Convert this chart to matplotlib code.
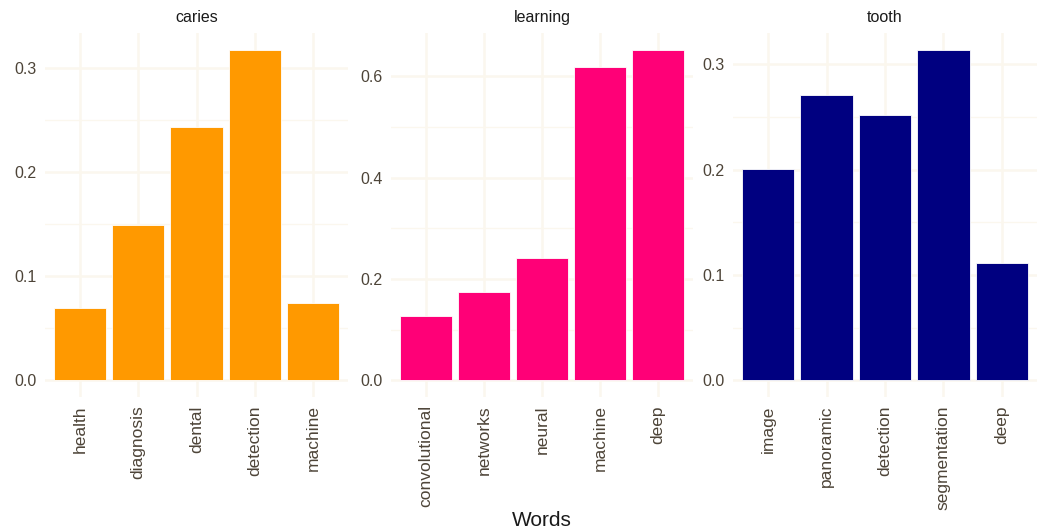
import matplotlib.pyplot as plt

plt.rcParams["font.family"] = ["Liberation Sans", "DejaVu Sans"]

PANELS = ["caries", "learning", "tooth"]
WORDS = {
    "caries": ["health", "diagnosis", "dental", "detection", "machine"],
    "learning": ["convolutional", "networks", "neural", "machine", "deep"],
    "tooth": ["image", "panoramic", "detection", "segmentation", "deep"],
}
VALUES = {
    "caries": [0.070, 0.149, 0.244, 0.318, 0.074],
    "learning": [0.127, 0.174, 0.241, 0.619, 0.653],
    "tooth": [0.201, 0.271, 0.252, 0.314, 0.111],
}
YTICKS = {
    "caries": [0.0, 0.1, 0.2, 0.3],
    "learning": [0.0, 0.2, 0.4, 0.6],
    "tooth": [0.0, 0.1, 0.2, 0.3],
}
COLORS = {"caries": "#FF9900", "learning": "#FF0077", "tooth": "#000080"}

GRID = "#FBF7EE"
TEXT = "#4D4438"

fig = plt.figure(figsize=(10.41, 5.31), dpi=100)
lefts = [45, 391, 733]
widths = [303, 302, 304]
W, H = 1041, 531
top_px, bot_px = 33, 397

for name, lpx, wpx in zip(PANELS, lefts, widths):
    ax = fig.add_axes([lpx / W, 1 - bot_px / H, wpx / W, (bot_px - top_px) / H])
    vals = VALUES[name]
    x = range(len(vals))
    ax.bar(x, vals, width=0.9, color=COLORS[name], edgecolor="white",
           linewidth=0.6, zorder=3)
    vmax = max(vals)
    ax.set_ylim(-0.05 * vmax, 1.05 * vmax)
    ax.set_xlim(-0.6, len(vals) - 0.4)
    ticks = YTICKS[name]
    ax.set_yticks(ticks)
    ax.set_yticklabels([f"{t:.1f}" for t in ticks])
    step = ticks[1] - ticks[0]
    minors = [t + step / 2 for t in ticks if t + step / 2 < 1.05 * vmax]
    ax.set_yticks(minors, minor=True)
    ax.set_xticks(list(x))
    ax.set_xticklabels(WORDS[name], rotation=90)
    ax.grid(True, which="major", color=GRID, linewidth=1.8, zorder=0)
    ax.grid(True, which="minor", axis="y", color=GRID, linewidth=0.9, zorder=0)
    ax.tick_params(which="both", length=0, colors=TEXT, pad=6)
    ax.tick_params(axis="y", labelsize=11.5)
    ax.tick_params(axis="x", labelsize=12.5)
    for s in ax.spines.values():
        s.set_visible(False)
    ax.set_title(name, fontsize=11.5, color="#1a1a1a", pad=8)

fig.text(542 / W, 1 - 521 / H, "Words", ha="center", va="center",
         fontsize=15, color="#1a1a1a")

fig.savefig("out.png", dpi=100, facecolor="white")
